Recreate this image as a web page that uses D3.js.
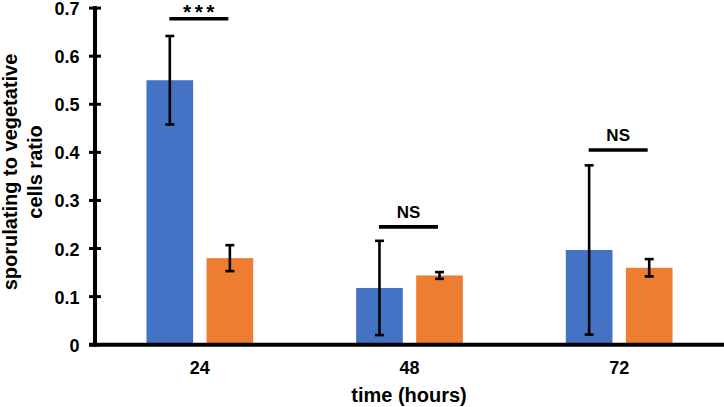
<!DOCTYPE html>
<html>
<head>
<meta charset="utf-8">
<script src="https://cdn.jsdelivr.net/npm/d3@7"></script>
<style>
  body { margin: 0; background: #fff; }
  text { font-family: "Liberation Sans", Arial, sans-serif; font-weight: bold; fill: #000; }
</style>
</head>
<body>
<div id="chart"></div>
<script>
// values
const categories = ["24", "48", "72"];
const series = ["strainA", "strainB"];
const meansA = [0.55, 0.118, 0.197];
const errA = [0.092, 0.098, 0.176];
const meansB = [0.18, 0.144, 0.16];
const errB = [0.027, 0.007, 0.018];
const sigLabels = ["***", "NS", "NS"];
const sigLevels = [0.678, 0.245, 0.405];
const yTicks = [0, 0.1, 0.2, 0.3, 0.4, 0.5, 0.6, 0.7];

const WIDTH = 724,
  HEIGHT = 407,
  COLORS = { strainA: "#4472C4", strainB: "#ED7D31" };

var svg = d3
  .select("#chart")
  .append("svg")
  .attr("width", WIDTH)
  .attr("height", HEIGHT);

var x0 = d3.scaleBand().domain(categories).range([95, 724]).padding(0);
var bw = x0.bandwidth();
var x1 = d3
  .scaleBand()
  .domain(series)
  .range([bw * 0.2455, bw * 0.7545])
  .paddingInner(0.223);
var y = d3.scaleLinear().domain([0, 0.7]).range([344.7, 8.1]);

var rows = categories.map(function(c, i) {
  return [
    { cat: c, key: "strainA", v: meansA[i], e: errA[i] },
    { cat: c, key: "strainB", v: meansB[i], e: errB[i] }
  ];
});

// bars
var groups = svg
  .selectAll(".cat")
  .data(rows)
  .enter()
  .append("g")
  .attr("class", "cat")
  .attr("transform", function(d, i) {
    return "translate(" + x0(categories[i]) + ",0)";
  });

groups
  .selectAll("rect")
  .data(function(d) { return d; })
  .enter()
  .append("rect")
  .attr("x", function(d) { return x1(d.key); })
  .attr("width", x1.bandwidth())
  .attr("y", function(d) { return y(d.v); })
  .attr("height", function(d) { return y(0) - y(d.v); })
  .attr("fill", function(d) { return COLORS[d.key]; });

// error bars
var err = groups
  .selectAll(".err")
  .data(function(d) { return d; })
  .enter()
  .append("g")
  .attr("class", "err")
  .attr("stroke", "#000")
  .attr("stroke-width", 2.6);

err
  .append("line")
  .attr("x1", function(d) { return x1(d.key) + x1.bandwidth() / 2; })
  .attr("x2", function(d) { return x1(d.key) + x1.bandwidth() / 2; })
  .attr("y1", function(d) { return y(d.v + d.e); })
  .attr("y2", function(d) { return y(d.v - d.e); });

[1, -1].forEach(function(s) {
  err
    .append("line")
    .attr("x1", function(d) { return x1(d.key) + x1.bandwidth() / 2 - 4.5; })
    .attr("x2", function(d) { return x1(d.key) + x1.bandwidth() / 2 + 4.5; })
    .attr("y1", function(d) { return y(d.v + s * d.e); })
    .attr("y2", function(d) { return y(d.v + s * d.e); });
});

// significance marks
var sig = svg
  .selectAll(".sig")
  .data(categories)
  .enter()
  .append("g")
  .attr("class", "sig")
  .attr("transform", function(d, i) {
    return "translate(" + (x0(d) + bw / 2 - 1) + "," + y(sigLevels[i]) + ")";
  });

sig
  .append("line")
  .attr("x1", -29.5)
  .attr("x2", 29.5)
  .attr("stroke", "#000")
  .attr("stroke-width", 3.6);

sig
  .append("text")
  .attr("text-anchor", "middle")
  .attr("x", function(d, i) { return sigLabels[i] === "***" ? 1.7 : 0; })
  .attr("y", function(d, i) { return sigLabels[i] === "***" ? 0 : -8.5; })
  .attr("font-size", function(d, i) { return sigLabels[i] === "***" ? "21px" : "17px"; })
  .attr("letter-spacing", function(d, i) { return sigLabels[i] === "***" ? "3.5px" : null; })
  .text(function(d, i) { return sigLabels[i]; });

// y axis
var yAxis = svg.append("g");
yAxis
  .append("line")
  .attr("x1", 95)
  .attr("x2", 95)
  .attr("y1", y(0.7) - 2)
  .attr("y2", y(0) + 2)
  .attr("stroke", "#000")
  .attr("stroke-width", 4);

var ticks = yAxis
  .selectAll(".tick")
  .data(yTicks)
  .enter()
  .append("g")
  .attr("class", "tick")
  .attr("transform", function(d) { return "translate(0," + y(d) + ")"; });

ticks
  .append("line")
  .attr("x1", 89)
  .attr("x2", 101)
  .attr("stroke", "#000")
  .attr("stroke-width", 3);

ticks
  .append("text")
  .attr("x", 79.5)
  .attr("y", 7)
  .attr("text-anchor", "end")
  .attr("font-size", "18px")
  .text(function(d) { return d === 0 ? "0" : d3.format(".1f")(d); });

// x axis
svg
  .append("line")
  .attr("x1", 89)
  .attr("x2", 724)
  .attr("y1", y(0))
  .attr("y2", y(0))
  .attr("stroke", "#000")
  .attr("stroke-width", 4);

svg
  .selectAll(".xlab")
  .data(categories)
  .enter()
  .append("text")
  .attr("class", "xlab")
  .attr("x", function(d) { return x0(d) + bw / 2; })
  .attr("y", 373.5)
  .attr("text-anchor", "middle")
  .attr("font-size", "18px")
  .text(function(d) { return d; });

// axis titles
svg
  .append("text")
  .attr("x", 409)
  .attr("y", 401.5)
  .attr("text-anchor", "middle")
  .attr("font-size", "20px")
  .text("time (hours)");

var yTitle = svg
  .append("text")
  .attr("transform", "translate(0,172) rotate(-90)")
  .attr("text-anchor", "middle")
  .attr("font-size", "20px");
yTitle.append("tspan").attr("x", 0).attr("y", 16.5).text("sporulating to vegetative");
yTitle.append("tspan").attr("x", 0).attr("y", 41.5).text("cells ratio");
</script>
</body>
</html>
